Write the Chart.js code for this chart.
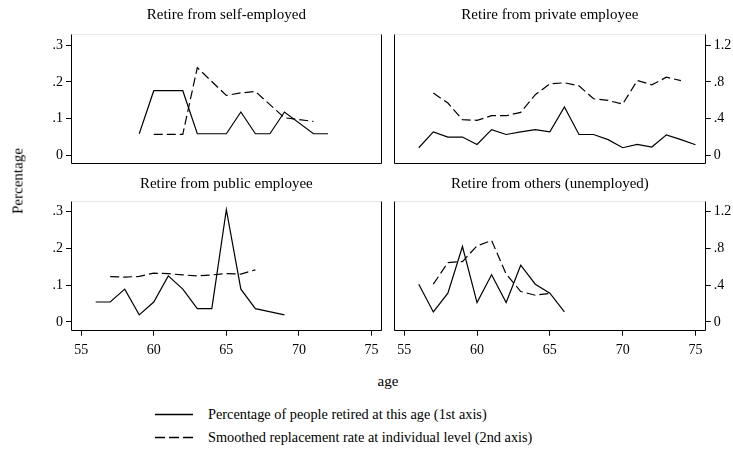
<!DOCTYPE html>
<html><head><meta charset="utf-8">
<script src="https://cdn.jsdelivr.net/npm/chart.js@4"></script>
<style>
html,body{margin:0;padding:0;background:#fff;width:733px;height:455px;overflow:hidden;font-family:"Liberation Serif","Times New Roman",serif;color:#000;}
canvas{position:absolute;}
.t{position:absolute;white-space:nowrap;line-height:1;}
</style></head><body>
<canvas id="tl" width="388" height="170" style="left:0;top:0"></canvas>
<canvas id="tr" width="345" height="170" style="left:388px;top:0"></canvas>
<canvas id="bl" width="388" height="200" style="left:0;top:170px"></canvas>
<canvas id="br" width="345" height="200" style="left:388px;top:170px"></canvas>
<div class="t" id="ytitle" style="left:18px;top:181px;font-size:15px;transform:translate(-50%,-50%) rotate(-90deg);">Percentage</div>
<div class="t" style="left:388px;top:381px;font-size:15px;transform:translate(-50%,-50%);">age</div>
<svg style="position:absolute;left:150px;top:404px" width="50" height="44">
  <line x1="5" y1="10.5" x2="43" y2="10.5" stroke="#000" stroke-width="1.3"/>
  <line x1="5" y1="33.5" x2="43" y2="33.5" stroke="#000" stroke-width="1.3" stroke-dasharray="10,4"/>
</svg>
<div class="t" style="left:208px;top:414px;font-size:14.3px;transform:translateY(-50%);">Percentage of people retired at this age (1st axis)</div>
<div class="t" style="left:208px;top:437px;font-size:14.3px;transform:translateY(-50%);">Smoothed replacement rate at individual level (2nd axis)</div>
<script>
// ---- data ----
const ages = [55,56,57,58,59,60,61,62,63,64,65,66,67,68,69,70,71,72,73,74,75];
const panelTitles = ["Retire from self-employed","Retire from private employee","Retire from public employee","Retire from others (unemployed)"];
const legendLabels = ["Percentage of people retired at this age (1st axis)","Smoothed replacement rate at individual level (2nd axis)"];
const xTicks = [55,60,65,70,75];
const yTicks = [0,0.1,0.2,0.3];
const y2Ticks = [0,0.4,0.8,1.2];

//                55    56     57     58     59     60     61     62     63     64     65     66     67     68     69     70     71     72     73     74     75
const selfPct = [null, null,  null,  null,  0.059, 0.176, 0.176, 0.176, 0.059, 0.059, 0.059, 0.118, 0.059, 0.059, 0.118, null,  0.059, 0.059, null,  null,  null];
const selfRep = [null, null,  null,  null,  null,  0.23,  0.23,  0.23,  0.955, null,  0.652, 0.68,  0.695, null,  0.41,  null,  0.37,  null,  null,  null,  null];
const privPct = [null, 0.021, 0.064, 0.050, 0.050, 0.030, 0.070, 0.057, 0.064, 0.070, 0.064, 0.132, 0.057, 0.057, 0.043, 0.021, 0.030, 0.023, 0.056, 0.043, 0.029];
const privRep = [null, null,  0.678, 0.57,  0.389, 0.382, 0.432, 0.432, 0.468, 0.66,  0.778, 0.79,  0.757, 0.616, 0.598, 0.558, 0.814, 0.768, 0.85,  0.814, null];
const pubPct  = [null, 0.054, 0.054, 0.089, 0.019, 0.054, 0.125, 0.089, 0.036, 0.036, 0.305, 0.089, 0.036, null,  0.019, null,  null,  null,  null,  null,  null];
const pubRep  = [null, null,  0.493, 0.486, 0.495, 0.53,  0.524, 0.511, 0.50,  0.511, 0.525, 0.52,  0.566, null,  null,  null,  null,  null,  null,  null,  null];
const othPct  = [null, 0.1025,0.027, 0.078, 0.205, 0.0525,0.128, 0.0525,0.154, 0.1025,0.078, 0.027, null,  null,  null,  null,  null,  null,  null,  null,  null];
const othRep  = [null, null,  0.41,  0.645, 0.656, 0.827, 0.885, 0.52,  0.33,  0.29,  0.31,  null,  null,  null,  null,  null,  null,  null,  null,  null,  null];

// ---- drawing ----
const FONT = "'Liberation Serif','Times New Roman',serif";
const pts = arr => ages.map((a,i)=>({x:a,y:arr[i]})).filter(p=>p.y!==null);
const fmt = v => v===0 ? '0' : String(+v.toFixed(2)).replace(/^0\./,'.');

const framePlugin = {
  id:'frame',
  afterDraw(chart){
    const {ctx, chartArea:a} = chart;
    const L=Math.round(a.left)+0.5, R=Math.round(a.right)-0.5, T=Math.round(a.top)+0.5, B=Math.round(a.bottom)-0.5;
    ctx.save();
    ctx.lineWidth=1;
    ctx.strokeStyle='#e8e8e8';
    ctx.beginPath(); ctx.moveTo(L,T); ctx.lineTo(R,T); ctx.stroke();
    ctx.strokeStyle='#000';
    ctx.beginPath(); ctx.moveTo(L,T); ctx.lineTo(L,B); ctx.lineTo(R,B); ctx.lineTo(R,T); ctx.stroke();
    ctx.restore();
  }
};

const noPad = s => { s.paddingTop=0; s.paddingBottom=0; s.paddingLeft=0; s.paddingRight=0; };

function makePanel(id, title, pct, rep, isLeft, isBottom){
  const titlePad = isBottom ? {top:5.5, bottom:7} : {top:6.5, bottom:9.5};
  const pad = {left: isLeft?0:6, right: isLeft?6.3:0, top:0, bottom: isBottom?0:5.7};
  new Chart(document.getElementById(id), {
    type:'line',
    data:{datasets:[
      {data:pts(pct), yAxisID:'y', borderColor:'#000', borderWidth:1.2, pointRadius:0, tension:0, fill:false},
      {data:pts(rep), yAxisID:'y2', borderColor:'#000', borderWidth:1.2, borderDash:[9,4], pointRadius:0, tension:0, fill:false}
    ]},
    options:{
      responsive:false, animation:false, devicePixelRatio:1,
      layout:{padding:pad},
      plugins:{
        legend:{display:false}, tooltip:{enabled:false},
        title:{display:true, text:title, fullSize:false, color:'#000', font:{family:FONT, size:15, weight:'normal'}, padding:titlePad}
      },
      scales:{
        x:{type:'linear', min:54.3, max:75.7, display:isBottom,
           afterBuildTicks:s=>{s.ticks=xTicks.map(v=>({value:v}));},
           afterFit:s=>{ noPad(s); if(isBottom) s.height=39.3; },
           grid:{drawOnChartArea:false, drawTicks:true, tickLength:5, color:'#000'},
           border:{display:false},
           ticks:{color:'#000', font:{family:FONT,size:14}, padding:6, autoSkip:false, maxRotation:0, callback:v=>String(v)}},
        y:{type:'linear', position:'left', min:-0.024, max:0.33, display:isLeft,
           afterBuildTicks:s=>{s.ticks=yTicks.map(v=>({value:v}));},
           afterFit:s=>{ noPad(s); if(isLeft) s.width=71; },
           grid:{drawOnChartArea:false, drawTicks:true, tickLength:5, color:'#000'},
           border:{display:false},
           ticks:{color:'#000', font:{family:FONT,size:14}, padding:3, autoSkip:false, callback:v=>fmt(v)}},
        y2:{type:'linear', position:'right', min:-0.096, max:1.32, display:!isLeft,
           afterBuildTicks:s=>{s.ticks=y2Ticks.map(v=>({value:v}));},
           afterFit:s=>{ noPad(s); if(!isLeft) s.width=27.3; },
           grid:{drawOnChartArea:false, drawTicks:true, tickLength:5, color:'#000'},
           border:{display:false},
           ticks:{color:'#000', font:{family:FONT,size:14}, padding:3, autoSkip:false, callback:v=>fmt(v)}}
      }
    },
    plugins:[framePlugin]
  });
}

makePanel('tl', panelTitles[0], selfPct, selfRep, true, false);
makePanel('tr', panelTitles[1], privPct, privRep, false, false);
makePanel('bl', panelTitles[2], pubPct, pubRep, true, true);
makePanel('br', panelTitles[3], othPct, othRep, false, true);
</script>
</body></html>
